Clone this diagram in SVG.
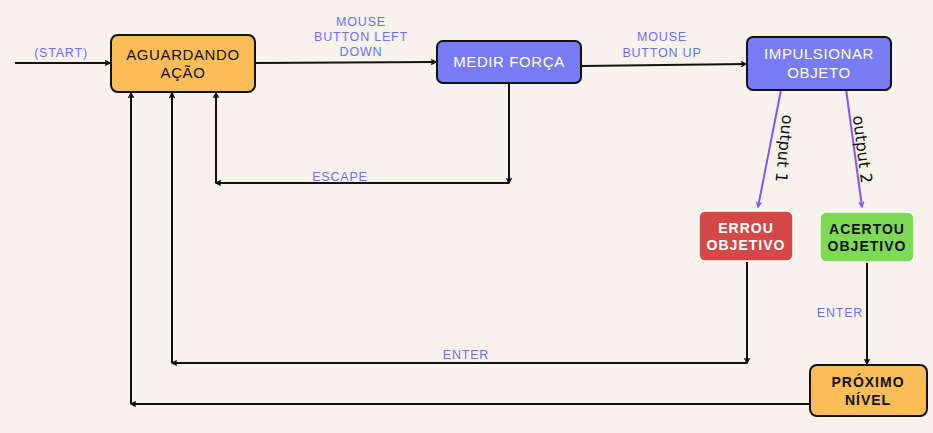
<svg xmlns="http://www.w3.org/2000/svg" width="933" height="433" viewBox="0 0 933 433">
<style>
.bg{fill:#f7f3ec}
.node{stroke:#111;stroke-width:2}
.orange{fill:#ffbd59}
.purple{fill:#777cf6}
.red{fill:#d64848;stroke:#fff;stroke-width:1.5}
.green{fill:#7ed957;stroke:#fff;stroke-width:1.5}
.nt{font-family:"Liberation Sans",Arial,sans-serif;font-size:15px;letter-spacing:0.6px;text-anchor:middle}
.bt{font-family:"Liberation Sans",Arial,sans-serif;font-size:14px;font-weight:bold;letter-spacing:1px;text-anchor:middle}
.el{font-family:"Liberation Sans",Arial,sans-serif;font-size:12.5px;letter-spacing:0.8px;fill:#6c70f5;text-anchor:middle}
.ol{font-family:"DejaVu Sans",sans-serif;font-size:16px;fill:#111;text-anchor:middle}
.c{fill:none;stroke:#111;stroke-width:2;marker-end:url(#ah)}
.p{fill:none;stroke:#8c52ff;stroke-width:2;marker-end:url(#ap)}
</style>
<defs>
<marker id="ah" viewBox="0 0 10 10" refX="9" refY="5" markerWidth="7" markerHeight="7" orient="auto" markerUnits="userSpaceOnUse"><path d="M2,1.5 L9,5 L2,8.5" fill="none" stroke="#111" stroke-width="2"/></marker>
<marker id="ap" viewBox="0 0 10 10" refX="9" refY="5" markerWidth="7" markerHeight="7" orient="auto" markerUnits="userSpaceOnUse"><path d="M2,1.5 L9,5 L2,8.5" fill="none" stroke="#8c52ff" stroke-width="2"/></marker>
</defs>
<rect class="bg" x="0" y="0" width="933" height="433"/>
<g id="connectors">
<line class="c" x1="15" y1="63" x2="110" y2="63"/>
<line class="c" x1="256" y1="63" x2="436" y2="62"/>
<line class="c" x1="582" y1="66" x2="746" y2="64"/>
<line class="c" x1="509" y1="84" x2="509" y2="183"/>
<line class="c" x1="509" y1="183" x2="216" y2="183"/>
<line class="c" x1="216" y1="183" x2="216" y2="93"/>
<line class="c" x1="747" y1="262" x2="747" y2="363"/>
<line class="c" x1="747" y1="363" x2="172" y2="363"/>
<line class="c" x1="172" y1="363" x2="172" y2="93"/>
<line class="c" x1="867" y1="263" x2="867" y2="364"/>
<line class="c" x1="810" y1="404" x2="131" y2="404"/>
<line class="c" x1="131" y1="404" x2="131" y2="93"/>
<line class="p" x1="781" y1="90" x2="758" y2="207"/>
<line class="p" x1="846" y1="89" x2="862" y2="207"/>
<text class="el" x="61" y="57">(START)</text>
<text class="el" x="361" y="26">MOUSE</text>
<text class="el" x="361" y="41">BUTTON LEFT</text>
<text class="el" x="361" y="56">DOWN</text>
<text class="el" x="662" y="41">MOUSE</text>
<text class="el" x="662" y="57">BUTTON UP</text>
<text class="el" x="340" y="181">ESCAPE</text>
<text class="el" x="466" y="359">ENTER</text>
<text class="el" x="840" y="317">ENTER</text>
<text class="ol" transform="translate(779,148) rotate(96)">output 1</text>
<text class="ol" transform="translate(857,150) rotate(83)">output 2</text>
</g>
<g id="aguardando">
<rect class="node orange" x="111" y="35" width="144" height="57" rx="7"/>
<text class="nt" x="183" y="60" fill="#111">AGUARDANDO</text>
<text class="nt" x="183" y="78" fill="#111">AÇÃO</text>
</g>
<g id="medir">
<rect class="node purple" x="437" y="41" width="144" height="42" rx="6"/>
<text class="nt" x="509" y="67" fill="#fff">MEDIR FORÇA</text>
</g>
<g id="impulsionar">
<rect class="node purple" x="747" y="37" width="144" height="53" rx="6"/>
<text class="nt" x="819" y="59" fill="#fff">IMPULSIONAR</text>
<text class="nt" x="819" y="78" fill="#fff">OBJETO</text>
</g>
<g id="errou">
<rect class="red" x="699" y="211" width="94" height="50" rx="6"/>
<text class="bt" x="746" y="233" fill="#fff">ERROU</text>
<text class="bt" x="746" y="250" fill="#fff">OBJETIVO</text>
</g>
<g id="acertou">
<rect class="green" x="820" y="212" width="94" height="50" rx="6"/>
<text class="bt" x="867" y="234" fill="#111">ACERTOU</text>
<text class="bt" x="867" y="251" fill="#111">OBJETIVO</text>
</g>
<g id="proximo">
<rect class="node orange" x="810" y="365" width="117" height="51" rx="7"/>
<text class="bt" x="868" y="387" fill="#111">PRÓXIMO</text>
<text class="bt" x="868" y="405" fill="#111">NÍVEL</text>
</g>
</svg>
